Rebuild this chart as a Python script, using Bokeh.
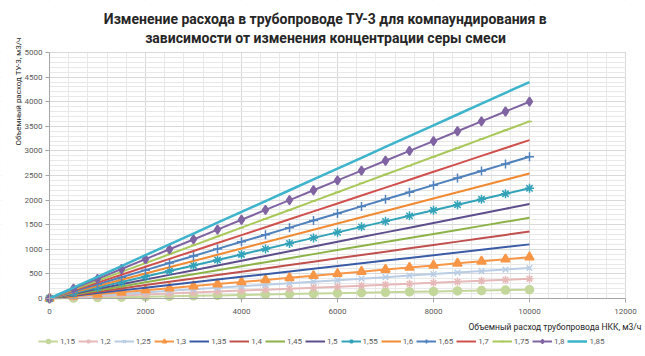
from bokeh.plotting import figure
from bokeh.models import (Range1d, FixedTicker, Label, Legend, LegendItem,
                          BoxAnnotation)
from bokeh.embed import file_html
from bokeh.resources import INLINE

# ---------------- data ----------------
title_line1 = "Изменение расхода в трубопроводе ТУ-3 для компаундирования в"
title_line2 = "зависимости от изменения концентрации серы смеси"
x_title = "Объемный расход трубопровода НКК, м3/ч"
y_title = "Объемный расход ТУ-3, м3/ч"

x_flow = [0, 500, 1000, 1500, 2000, 2500, 3000, 3500, 4000, 4500, 5000,
          5500, 6000, 6500, 7000, 7500, 8000, 8500, 9000, 9500, 10000]

series_names = ["1,15", "1,2", "1,25", "1,3", "1,35", "1,4", "1,45", "1,5",
                "1,55", "1,6", "1,65", "1,7", "1,75", "1,8", "1,85"]

y_115 = [0, 9, 18, 27, 36, 45, 54, 63, 72, 81, 90, 99, 108, 117, 126, 135, 144, 153, 162, 171, 180]
y_120 = [0, 20, 40, 60, 80, 100, 120, 140, 160, 180, 200, 220, 240, 260, 280, 300, 320, 340, 360, 380, 400]
y_125 = [0, 31, 62, 93, 124, 155, 186, 217, 248, 279, 310, 341, 372, 403, 434, 465, 496, 527, 558, 589, 620]
y_130 = [0, 42, 84, 126, 168, 210, 252, 294, 336, 378, 420, 462, 504, 546, 588, 630, 672, 714, 756, 798, 840]
y_135 = [0, 55, 110, 165, 220, 275, 330, 385, 440, 495, 550, 605, 660, 715, 770, 825, 880, 935, 990, 1045, 1100]
y_140 = [0, 68, 136, 204, 272, 340, 408, 476, 544, 612, 680, 748, 816, 884, 952, 1020, 1088, 1156, 1224, 1292, 1360]
y_145 = [0, 82, 164, 246, 328, 410, 492, 574, 656, 738, 820, 902, 984, 1066, 1148, 1230, 1312, 1394, 1476, 1558, 1640]
y_150 = [0, 96, 192, 288, 384, 480, 576, 672, 768, 864, 960, 1056, 1152, 1248, 1344, 1440, 1536, 1632, 1728, 1824, 1920]
y_155 = [0, 112, 224, 336, 448, 560, 672, 784, 896, 1008, 1120, 1232, 1344, 1456, 1568, 1680, 1792, 1904, 2016, 2128, 2240]
y_160 = [0, 127, 254, 381, 508, 635, 762, 889, 1016, 1143, 1270, 1397, 1524, 1651, 1778, 1905, 2032, 2159, 2286, 2413, 2540]
y_165 = [0, 144, 288, 432, 576, 720, 864, 1008, 1152, 1296, 1440, 1584, 1728, 1872, 2016, 2160, 2304, 2448, 2592, 2736, 2880]
y_170 = [0, 161, 322, 483, 644, 805, 966, 1127, 1288, 1449, 1610, 1771, 1932, 2093, 2254, 2415, 2576, 2737, 2898, 3059, 3220]
y_175 = [0, 180, 360, 540, 720, 900, 1080, 1260, 1440, 1620, 1800, 1980, 2160, 2340, 2520, 2700, 2880, 3060, 3240, 3420, 3600]
y_180 = [0, 200, 400, 600, 800, 1000, 1200, 1400, 1600, 1800, 2000, 2200, 2400, 2600, 2800, 3000, 3200, 3400, 3600, 3800, 4000]
y_185 = [0, 220, 440, 660, 880, 1100, 1320, 1540, 1760, 1980, 2200, 2420, 2640, 2860, 3080, 3300, 3520, 3740, 3960, 4180, 4400]

x_ticks = [0, 2000, 4000, 6000, 8000, 10000, 12000]
y_ticks = [0, 500, 1000, 1500, 2000, 2500, 3000, 3500, 4000, 4500, 5000]
x_minor = list(range(0, 12001, 400))
y_minor = list(range(0, 5001, 100))

series_values = [y_115, y_120, y_125, y_130, y_135, y_140, y_145, y_150,
                 y_155, y_160, y_165, y_170, y_175, y_180, y_185]

# ---------------- styles ----------------
colors = ["#C4D79B", "#E6B9B8", "#B9CDE5", "#F79646", "#3A5BA5", "#C0504D",
          "#8DB348", "#5E4E8C", "#31A2B8", "#F08A33", "#4F81BD", "#D0504D",
          "#A9C85A", "#8064A2", "#3DB4CB"]
markers = ["circle", "asterisk", "x", "triangle", None, None, None, None,
           "asterisk", None, "cross", None, "dash", "diamond", None]
marker_sizes = [8, 8, 8, 9, 0, 0, 0, 0, 9, 0, 9, 0, 5, 9, 0]
line_widths = [2, 2, 2, 2, 2, 2, 2, 2, 2, 2, 2, 2, 2, 2, 2.5]

FONT = "Roboto"
TEXT = "#595959"

# The frame covers the whole canvas; axes are pinned at 0 inside it.
p = figure(width=645, height=356, output_backend="svg", toolbar_location=None,
           x_range=Range1d(-1021, 12417), y_range=Range1d(-1179, 6057),
           min_border=0)
p.outline_line_color = None
p.background_fill_color = "white"
p.border_fill_color = "white"

p.xaxis.ticker = FixedTicker(ticks=x_ticks, minor_ticks=x_minor)
p.yaxis.ticker = FixedTicker(ticks=y_ticks, minor_ticks=y_minor)
p.xaxis.fixed_location = 0
p.yaxis.fixed_location = 0
p.xaxis.bounds = (0, 12000)
p.yaxis.bounds = (0, 5000)
for ax in (p.xaxis[0], p.yaxis[0]):
    ax.axis_line_color = "#A6A6A6"
    ax.major_tick_line_color = "#A6A6A6"
    ax.major_tick_in = 0
    ax.major_tick_out = 4
    ax.minor_tick_line_color = None
    ax.major_label_text_font = FONT
    ax.major_label_text_font_size = "8px"
    ax.major_label_text_color = TEXT
p.xaxis.major_label_standoff = 7
p.yaxis.major_label_standoff = 3

p.xgrid.grid_line_color = "#D9D9D9"
p.ygrid.grid_line_color = "#D9D9D9"
p.xgrid.minor_grid_line_color = "#E8E8E8"
p.ygrid.minor_grid_line_color = "#E8E8E8"
p.xgrid.bounds = (0, 12000)
p.ygrid.bounds = (0, 5000)

# white masks so the grid only shows inside the plot area
for kw in (dict(bottom=5012), dict(top=0), dict(right=0), dict(left=12012)):
    p.add_layout(BoxAnnotation(fill_color="white", fill_alpha=1,
                               line_color=None, level="underlay", **kw))

items = []
for name, ys, c, m, ms, lw in zip(series_names, series_values, colors, markers,
                                   marker_sizes, line_widths):
    rs = [p.line(x_flow, ys, line_color=c, line_width=lw)]
    if m is not None:
        rs.append(p.scatter(x_flow, ys, marker=m, size=ms, line_color=c,
                            fill_color=c, line_width=1.5))
    items.append(LegendItem(label=name, renderers=rs))

legend = Legend(items=items, orientation="horizontal", location=(38, 10),
                label_text_font=FONT, label_text_font_size="8px",
                label_text_color=TEXT, glyph_width=20, glyph_height=10,
                label_width=10, label_height=10, label_standoff=2, spacing=3,
                padding=0, margin=0, border_line_color=None,
                background_fill_alpha=0)
p.add_layout(legend, "center")

for txt, yy in ((title_line1, 5691), (title_line2, 5285)):
    p.add_layout(Label(x=5750, y=yy, text=txt, text_align="center",
                       text_baseline="middle", text_font=FONT,
                       text_font_size="14px", text_font_style="bold",
                       text_color="#262626"))
p.add_layout(Label(x=-646, y=4207, text=y_title, angle=1.5708,
                   text_align="center", text_baseline="middle",
                   text_font=FONT, text_font_size="8px",
                   text_color="#262626"))
p.add_layout(Label(x=12333, y=-589, text=x_title, text_align="right",
                   text_baseline="middle", text_font=FONT,
                   text_font_size="8.5px", text_color="#262626"))

open("out.html", "w").write(file_html(p, INLINE))
